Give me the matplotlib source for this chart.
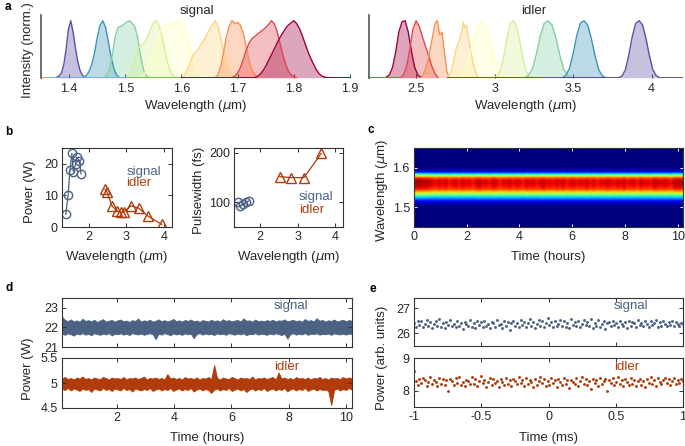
import numpy as np
import matplotlib
matplotlib.use('Agg')
import matplotlib.pyplot as plt
from matplotlib.ticker import FormatStrFormatter

plt.rcParams['font.family'] = ['Liberation Sans', 'DejaVu Sans']
plt.rcParams['mathtext.fontset'] = 'dejavusans'

W, H = 685, 446
C_SIG = '#4b6283'
C_IDL = '#b03c0c'
C_AX = '#333333'

# ---------------- panel a : spectra ----------------
signal_start = [1.378, 1.425, 1.462, 1.500, 1.525, 1.600, 1.660, 1.690, 1.730]
signal_end = [1.428, 1.490, 1.542, 1.595, 1.645, 1.700, 1.740, 1.805, 1.860]
signal_spectra = [
    [0.01, 0.03, 0.08, 0.22, 0.50, 0.85, 1.0, 0.80, 0.52, 0.28, 0.12, 0.04, 0.01],
    [0.0, 0.03, 0.10, 0.22, 0.42, 0.70, 0.92, 1.0, 0.88, 0.62, 0.35, 0.15, 0.04, 0.0],
    [0.0, 0.04, 0.15, 0.40, 0.72, 0.88, 0.90, 0.93, 0.97, 1.0, 0.96, 0.90, 0.70, 0.40, 0.15, 0.04, 0.0],
    [0.0, 0.03, 0.10, 0.25, 0.45, 0.55, 0.58, 0.62, 0.72, 0.85, 0.96, 1.0, 0.92, 0.75, 0.50, 0.28, 0.12, 0.04, 0.01, 0.0],
    [0.0, 0.03, 0.08, 0.18, 0.32, 0.48, 0.62, 0.75, 0.85, 0.92, 0.95, 0.93, 0.96, 0.98, 1.0, 0.96, 0.88, 0.74,
     0.55, 0.36, 0.20, 0.10, 0.04, 0.01, 0.0],
    [0.0, 0.04, 0.12, 0.25, 0.38, 0.45, 0.50, 0.58, 0.66, 0.75, 0.85, 0.93, 1.0, 0.90, 0.70, 0.48, 0.28, 0.14,
     0.06, 0.02, 0.0],
    [0.0, 0.05, 0.20, 0.45, 0.72, 0.90, 1.0, 0.95, 0.97, 0.92, 0.78, 0.55, 0.32, 0.15, 0.06, 0.02, 0.0],
    [0.0, 0.03, 0.08, 0.18, 0.32, 0.48, 0.60, 0.68, 0.72, 0.76, 0.80, 0.84, 0.88, 0.93, 1.0, 0.95, 0.82, 0.62,
     0.42, 0.25, 0.12, 0.05, 0.02, 0.0],
    [0.0, 0.02, 0.06, 0.12, 0.20, 0.30, 0.40, 0.50, 0.60, 0.70, 0.78, 0.86, 0.92, 0.96, 1.0, 0.95, 0.86, 0.74,
     0.60, 0.46, 0.34, 0.24, 0.14, 0.07, 0.03, 0.01, 0.0],
]
signal_baseline_ext = {6: (1.35, None), 8: (1.60, 1.90)}

idler_start = [2.31, 2.40, 2.53, 2.70, 2.77, 3.00, 3.19, 3.43, 3.79]
idler_end = [2.53, 2.64, 2.71, 2.90, 3.07, 3.24, 3.49, 3.71, 4.05]
idler_spectra = [
    [0.01, 0.05, 0.18, 0.45, 0.80, 0.98, 1.0, 0.80, 0.47, 0.19, 0.05, 0.01],
    [0.0, 0.05, 0.20, 0.50, 0.85, 1.0, 0.90, 0.72, 0.55, 0.38, 0.20, 0.07, 0.0],
    [0.0, 0.05, 0.15, 0.30, 0.50, 0.72, 0.95, 1.0, 0.75, 0.80, 0.45, 0.12, 0.0],
    [0.0, 0.04, 0.10, 0.18, 0.30, 0.45, 0.55, 0.62, 0.70, 0.80, 0.97, 0.88, 0.92, 0.75, 0.60, 0.45, 0.30, 0.18,
     0.08, 0.03, 0.0],
    [0.0, 0.05, 0.18, 0.42, 0.72, 0.93, 1.0, 0.92, 0.70, 0.42, 0.18, 0.05, 0.0],
    [0.0, 0.04, 0.15, 0.40, 0.72, 0.95, 1.0, 0.90, 0.65, 0.35, 0.13, 0.03, 0.0],
    [0.0, 0.04, 0.15, 0.40, 0.72, 0.95, 1.0, 0.93, 0.70, 0.40, 0.15, 0.04, 0.0],
    [0.0, 0.04, 0.16, 0.42, 0.74, 0.96, 1.0, 0.92, 0.68, 0.38, 0.14, 0.03, 0.0],
    [0.0, 0.03, 0.14, 0.40, 0.72, 0.95, 1.0, 0.93, 0.70, 0.40, 0.15, 0.04, 0.0],
]
idler_baseline_ext = {1: (2.20, None), 8: (2.70, 4.20)}

# ---------------- panel b ----------------
b_sig_wl = [1.40, 1.46, 1.51, 1.56, 1.60, 1.66, 1.69, 1.76, 1.80]
b_sig_power = [4, 10, 18, 23.3, 17.5, 20, 22, 21, 16.8]
b_idl_wl = [2.43, 2.48, 2.62, 2.75, 2.86, 2.93, 3.12, 3.32, 3.56, 3.93]
b_idl_power = [11.9, 11.2, 6.7, 5.0, 4.6, 4.8, 6.7, 6.0, 3.5, 0.8]
b_sig_pw_wl = [1.40, 1.47, 1.55, 1.62, 1.70]
b_sig_pw = [100, 93, 96, 100, 103]
b_idl_pw_wl = [2.52, 2.81, 3.16, 3.62]
b_idl_pw = [152, 150, 150, 199]

# ---------------- panel c ----------------
c_wl = np.round(np.arange(1.45, 1.6501, 0.005), 3)
c_profile = [0, 0, 0, 0, 0, 0, 0, 0, 0, 0,
             0.0, 0.02, 0.05, 0.12, 0.22, 0.33, 0.45, 0.58, 0.72, 0.83,
             0.88, 0.90, 0.92, 0.92, 0.90, 0.82, 0.60, 0.36, 0.15, 0.05,
             0.01, 0, 0, 0, 0, 0, 0, 0, 0, 0, 0]
c_fluct = [1.04, 1.05, 1.03, 1.04, 1.02, 1.00, 0.98, 1.01, 0.99, 1.02, 0.97, 1.00, 1.01, 0.98, 1.02, 0.99, 1.00, 0.97, 1.01, 1.03,
           0.99, 1.00, 0.98, 1.02, 1.01, 0.97, 1.00, 0.99, 1.02, 0.98, 1.01, 1.00, 0.97, 1.02, 0.99, 1.01, 0.98, 1.00, 1.03, 0.99,
           1.00, 0.98, 1.01, 0.99, 1.02, 0.97, 1.00, 1.01, 0.98, 1.00, 0.99, 1.02, 0.98, 1.01, 0.97, 1.00, 0.99, 1.02, 1.00, 0.98,
           1.01, 0.99, 1.03, 0.98, 1.00, 1.01, 0.97, 1.02, 0.99, 1.00, 0.98, 1.03, 1.01, 0.99, 1.02, 1.00, 0.98, 1.03, 1.04, 1.02]

# ---------------- panel d : envelopes of the power traces (W) ----------------
d_signal_upper = [22.55, 22.38, 22.32, 22.41, 22.30, 22.36, 22.29, 22.44, 22.33, 22.37,
                  22.31, 22.39, 22.28, 22.35, 22.42, 22.30, 22.34, 22.38, 22.29, 22.36,
                  22.40, 22.31, 22.35, 22.28, 22.37, 22.33, 22.45, 22.30, 22.36, 22.32,
                  22.39, 22.29, 22.34, 22.41, 22.31, 22.37, 22.30, 22.35, 22.43, 22.32,
                  22.36, 22.29, 22.38, 22.33, 22.40, 22.31, 22.35, 22.28, 22.37, 22.34,
                  22.30, 22.39, 22.32, 22.36, 22.29, 22.42, 22.33, 22.37, 22.31, 22.35,
                  22.38, 22.30, 22.46, 22.34, 22.36, 22.29, 22.40, 22.32, 22.35, 22.31,
                  22.37, 22.33, 22.39, 22.30, 22.36, 22.34, 22.41, 22.31, 22.35, 22.38,
                  22.32, 22.36, 22.29, 22.43, 22.33, 22.37, 22.31, 22.47, 22.34, 22.38,
                  22.30, 22.36, 22.33, 22.40, 22.31, 22.35, 22.39, 22.32, 22.37, 22.34]
d_signal_lower = [21.68, 21.62, 21.70, 21.65, 21.58, 21.69, 21.64, 21.71, 21.63, 21.67,
                  21.60, 21.70, 21.66, 21.62, 21.69, 21.64, 21.71, 21.59, 21.67, 21.65,
                  21.70, 21.63, 21.68, 21.61, 21.72, 21.66, 21.64, 21.69, 21.62, 21.67,
                  21.70, 21.65, 21.40, 21.68, 21.63, 21.71, 21.66, 21.60, 21.69, 21.64,
                  21.67, 21.62, 21.70, 21.65, 21.68, 21.45, 21.66, 21.71, 21.63, 21.69,
                  21.64, 21.67, 21.61, 21.70, 21.65, 21.68, 21.62, 21.71, 21.66, 21.63,
                  21.69, 21.64, 21.70, 21.60, 21.67, 21.65, 21.71, 21.63, 21.68, 21.66,
                  21.62, 21.69, 21.64, 21.70, 21.66, 21.61, 21.68, 21.43, 21.65, 21.70,
                  21.63, 21.67, 21.64, 21.71, 21.62, 21.68, 21.66, 21.70, 21.63, 21.67,
                  21.65, 21.69, 21.62, 21.70, 21.66, 21.64, 21.68, 21.63, 21.69, 21.66]
d_idler_upper = [5.09, 5.12, 5.08, 5.10, 5.07, 5.11, 5.09, 5.13, 5.08, 5.10,
                 5.07, 5.11, 5.09, 5.08, 5.12, 5.10, 5.07, 5.11, 5.09, 5.10,
                 5.08, 5.12, 5.07, 5.10, 5.09, 5.11, 5.08, 5.10, 5.13, 5.07,
                 5.10, 5.09, 5.11, 5.08, 5.10, 5.07, 5.18, 5.09, 5.11, 5.08,
                 5.10, 5.07, 5.12, 5.09, 5.10, 5.08, 5.11, 5.07, 5.10, 5.09,
                 5.12, 5.08, 5.36, 5.10, 5.07, 5.11, 5.09, 5.08, 5.12, 5.10,
                 5.07, 5.11, 5.09, 5.10, 5.08, 5.13, 5.07, 5.10, 5.09, 5.11,
                 5.08, 5.10, 5.12, 5.07, 5.21, 5.09, 5.11, 5.08, 5.10, 5.07,
                 5.12, 5.09, 5.10, 5.08, 5.11, 5.07, 5.10, 5.09, 5.12, 5.08,
                 5.10, 5.07, 5.11, 5.09, 5.10, 5.08, 5.12, 5.09, 5.11, 5.10]
d_idler_lower = [4.88, 4.86, 4.90, 4.85, 4.89, 4.87, 4.84, 4.89, 4.86, 4.88,
                 4.82, 4.89, 4.87, 4.85, 4.90, 4.86, 4.88, 4.84, 4.89, 4.87,
                 4.85, 4.90, 4.86, 4.88, 4.83, 4.89, 4.87, 4.85, 4.88, 4.86,
                 4.90, 4.84, 4.87, 4.89, 4.85, 4.88, 4.86, 4.90, 4.84, 4.87,
                 4.89, 4.85, 4.88, 4.86, 4.90, 4.83, 4.87, 4.89, 4.85, 4.88,
                 4.86, 4.80, 4.87, 4.89, 4.85, 4.88, 4.86, 4.90, 4.84, 4.87,
                 4.89, 4.85, 4.88, 4.82, 4.87, 4.89, 4.85, 4.88, 4.86, 4.90,
                 4.84, 4.87, 4.89, 4.85, 4.88, 4.86, 4.90, 4.83, 4.87, 4.89,
                 4.85, 4.88, 4.86, 4.90, 4.84, 4.87, 4.89, 4.85, 4.88, 4.86,
                 4.87, 4.84, 4.56, 4.86, 4.89, 4.85, 4.88, 4.86, 4.90, 4.87]

# ---------------- panel e (deviation in 0.01 arb. units) ----------------
e_signal_mean = 26.35
e_signal_dev = [5, -8, 12, -3, 15, -10, 2, 18, -6, 9, -12, 4, 14, -5, 20, -9, 7, -14, 11, -2,
                16, -7, 3, -11, 13, -4, 8, -17, 10, 1, -6, 19, -10, 6, -13, 12, -3, 9, -8, 15,
                -5, 2, -15, 11, 7, -9, 17, -2, 4, -12, 13, -7, 10, -20, 6, 14, -4, 8, -10, 16,
                -1, 11, -8, 5, 21, -6, 9, -13, 3, 18, -5, 12, -9, 7, 24, -3, 10, -11, 15, -7,
                2, 19, -4, 13, -8, 6, -14, 22, -2, 9, -6, 14, -10, 4, 17, -3, 11, -7, 23, -12,
                8, -4, 16, -9, 3, 12, -18, 7, 10, -5, 15, -2, 6, -11, 13, 1, -7, 9, -15, 14,
                -4, 11, 5, -9, 17, -1, 8, -6, 12, 3, -10, 15, -3, 7, 18, -8, 10, -5, 13, 2,
                -6, 9, -2, 14, -7, 11, 4, -4, 8, 1]
e_idler_mean = 8.25
e_idler_dev = [35, 5, -8, 12, -3, 15, 8, -10, 2, 18, -6, 9, 3, -12, 14, -5, 10, -9, 7, -25,
               11, 4, -7, 13, -2, 16, -8, 3, -11, 9, 6, -4, 17, -6, 12, -10, 5, 19, -3, 8,
               -13, 2, 14, -7, 10, -1, 6, -15, 12, 3, -9, 15, -5, 8, -12, 11, 4, -6, 18, -2,
               7, -10, 13, -4, 9, 1, -14, 12, -8, 5, 16, -3, 10, -11, 6, -7, 14, -1, 8, -13,
               11, 3, -9, 15, -5, 7, -16, 9, 2, -6, 13, -10, 6, 17, -4, 11, -8, 4, -19, 12,
               -3, 9, -11, 14, -6, 5, 10, -25, 7, -2, 13, -9, 3, 16, -5, 8, -12, 11, 1, -7,
               15, -4, 9, -10, 6, 12, -8, 4, -14, 10, -2, 17, -6, 7, -11, 13, 3, -5, 9, 14,
               -3, 11, -8, 6, 15, -4, 8, -1, 12, 5]

# =====================================================================
fig = plt.figure(figsize=(W / 100, H / 100), dpi=100)


def add_ax(x0, y0, x1, y1):
    return fig.add_axes([x0 / W, 1 - y1 / H, (x1 - x0) / W, (y1 - y0) / H])


def ft(x, y, s, **kw):
    kw.setdefault('ha', 'center')
    kw.setdefault('va', 'center')
    kw.setdefault('fontsize', 9.5)
    kw.setdefault('color', '#262626')
    fig.text(x / W, 1 - y / H, s, **kw)


def box(ax):
    for sp in ax.spines.values():
        sp.set_color(C_AX)
        sp.set_linewidth(0.8)
    ax.tick_params(direction='in', top=True, right=True, length=3, width=0.7,
                   color=C_AX, labelsize=9, labelcolor='#262626', pad=3)


cmap = plt.get_cmap('Spectral')


def draw_spectra(ax, starts, ends, spectra, ext, color_index):
    for i, (s, e, v) in enumerate(zip(starts, ends, spectra)):
        c = cmap(color_index(i))
        x = np.linspace(s, e, len(v))
        y = np.array(v, dtype=float)
        ax.fill_between(x, 0, y, color=c, alpha=0.35, lw=0)
        if i in ext:
            lo, hi = ext[i]
            if lo is not None:
                x = np.concatenate([[lo], x]); y = np.concatenate([[0], y])
            if hi is not None:
                x = np.concatenate([x, [hi]]); y = np.concatenate([y, [0]])
        ax.plot(x, y, color=c, lw=1.0)


def spec_axes(ax):
    for k in ['top', 'right', 'bottom']:
        ax.spines[k].set_visible(False)
    ax.spines['left'].set_color('#555555')
    ax.spines['left'].set_linewidth(1.2)
    ax.set_yticks([])
    ax.set_ylim(0, 1.1)
    ax.tick_params(axis='x', direction='in', length=3, width=0.7, color='#444444',
                   labelsize=9, labelcolor='#262626', pad=4)
    ax.xaxis.set_major_formatter(FormatStrFormatter('%g'))


ax_as = add_ax(41, 15, 350, 77.7)
draw_spectra(ax_as, signal_start, signal_end, signal_spectra, signal_baseline_ext,
             lambda i: (8 - i) / 8)
ax_as.set_xlim(1.35, 1.9)
ax_as.set_xticks([1.4, 1.5, 1.6, 1.7, 1.8, 1.9])
spec_axes(ax_as)

ax_ai = add_ax(369, 15, 683, 77.7)
draw_spectra(ax_ai, idler_start, idler_end, idler_spectra, idler_baseline_ext,
             lambda i: i / 8)
ax_ai.set_xlim(2.2, 4.2)
ax_ai.set_xticks([2.5, 3, 3.5, 4])
spec_axes(ax_ai)

ft(197, 11, 'signal')
ft(534, 11, 'idler')
ft(28, 50, 'Intensity (norm.)', rotation=90)
ft(195.5, 106, r'Wavelength ($\mu$m)')
ft(526, 106, r'Wavelength ($\mu$m)')

# ---------------- b ----------------
ax_b1 = add_ax(62, 148, 172, 227)
ax_b1.plot(b_sig_wl, b_sig_power, '-o', color=C_SIG, mfc='none', ms=6, mew=1.0, lw=0.9)
ax_b1.plot(b_idl_wl, b_idl_power, '-^', color=C_IDL, mfc='none', ms=7, mew=1.0, lw=0.9)
ax_b1.set_xlim(1.3, 4.2)
ax_b1.set_ylim(0, 25)
ax_b1.set_xticks([2, 3, 4])
ax_b1.set_yticks([0, 10, 20])
box(ax_b1)
ax_b1.text(3.0, 17.5, 'signal', color=C_SIG, fontsize=9.5, va='center')
ax_b1.text(3.0, 14.0, 'idler', color=C_IDL, fontsize=9.5, va='center')
ft(30, 192, 'Power (W)', rotation=90)
ft(117, 257, r'Wavelength ($\mu$m)')

ax_b2 = add_ax(234, 148, 343, 227)
ax_b2.plot(b_sig_pw_wl, b_sig_pw, '-o', color=C_SIG, mfc='none', ms=6, mew=1.0, lw=0.9)
ax_b2.plot(b_idl_pw_wl, b_idl_pw, '-^', color=C_IDL, mfc='none', ms=7, mew=1.0, lw=0.9)
ax_b2.set_xlim(1.3, 4.2)
ax_b2.set_ylim(50, 210)
ax_b2.set_xticks([2, 3, 4])
ax_b2.set_yticks([100, 200])
box(ax_b2)
ax_b2.text(3.03, 110.8, 'signal', color=C_SIG, fontsize=9.5, va='center')
ax_b2.text(3.03, 84.4, 'idler', color=C_IDL, fontsize=9.5, va='center')
ft(199, 190, 'Pulsewidth (fs)', rotation=90)
ft(288.5, 257, r'Wavelength ($\mu$m)')

# ---------------- c ----------------
ax_c = add_ax(414, 148, 683, 227)
Z = np.outer(np.array(c_profile), np.array(c_fluct))
ax_c.imshow(Z, aspect='auto', origin='lower', cmap='jet', vmin=0, vmax=1.0,
            extent=[0, 10.2, c_wl[0], c_wl[-1]], interpolation='bilinear')
ax_c.set_xlim(0, 10.2)
ax_c.set_ylim(1.45, 1.65)
ax_c.set_xticks([0, 2, 4, 6, 8, 10])
ax_c.set_yticks([1.5, 1.6])
box(ax_c)
ax_c.tick_params(color='white', length=2)
ft(382, 190, r'Wavelength ($\mu$m)', rotation=90)
ft(548.5, 257, 'Time (hours)')

# ---------------- d ----------------
t_d = np.linspace(0.08, 10.2, len(d_signal_upper))
ax_d1 = add_ax(62, 298, 351.7, 347)
ax_d1.fill_between(t_d, d_signal_lower, d_signal_upper, color=C_SIG, lw=0.6)
ax_d1.set_xlim(0.08, 10.2)
ax_d1.set_ylim(21, 23.5)
ax_d1.set_yticks([21, 22, 23])
ax_d1.set_xticks([2, 4, 6, 8, 10])
box(ax_d1)
ax_d1.tick_params(labelbottom=False)
ft(290.5, 306, 'signal', color=C_SIG)

t_d2 = np.linspace(0.08, 10.2, len(d_idler_upper))
ax_d2 = add_ax(62, 358, 351.7, 408)
ax_d2.fill_between(t_d2, d_idler_lower, d_idler_upper, color=C_IDL, lw=0.6)
ax_d2.set_xlim(0.08, 10.2)
ax_d2.set_ylim(4.5, 5.5)
ax_d2.set_yticks([4.5, 5, 5.5])
ax_d2.set_xticks([2, 4, 6, 8, 10])
ax_d2.yaxis.set_major_formatter(FormatStrFormatter('%g'))
box(ax_d2)
ft(287, 367, 'idler', color=C_IDL)
ft(28, 369, 'Power (W)', rotation=90)
ft(207, 438, 'Time (hours)')

# ---------------- e ----------------
t_e = np.linspace(-1, 1, len(e_signal_dev))
ax_e1 = add_ax(414, 298, 683, 346)
ax_e1.plot(t_e, e_signal_mean + np.array(e_signal_dev) / 100, 'o', color=C_SIG, ms=2.1, mew=0)
ax_e1.set_xlim(-1, 1)
ax_e1.set_ylim(25.5, 27.4)
ax_e1.set_yticks([26, 27])
ax_e1.set_xticks([-1, -0.5, 0, 0.5, 1])
box(ax_e1)
ax_e1.tick_params(labelbottom=False)
ft(631, 306, 'signal', color=C_SIG)

t_e2 = np.linspace(-1, 1, len(e_idler_dev))
ax_e2 = add_ax(414, 358, 683, 407)
ax_e2.plot(t_e2, e_idler_mean + np.array(e_idler_dev) / 100, 'o', color=C_IDL, ms=2.1, mew=0)
ax_e2.set_xlim(-1, 1)
ax_e2.set_ylim(7.5, 9)
ax_e2.set_yticks([8, 9])
ax_e2.set_xticks([-1, -0.5, 0, 0.5, 1])
ax_e2.xaxis.set_major_formatter(FormatStrFormatter('%g'))
box(ax_e2)
ft(627, 367, 'idler', color=C_IDL)
ft(382, 358, 'Power (arb. units)', rotation=90)
ft(548.5, 438, 'Time (ms)')

# panel letters
for s, x, y in [('a', 5, 7), ('b', 5, 132), ('c', 367, 130), ('d', 5, 288), ('e', 370, 289)]:
    ft(x, y, s, fontweight='bold', fontsize=8.5, ha='left', color='black')

fig.savefig('out.png', dpi=100)
